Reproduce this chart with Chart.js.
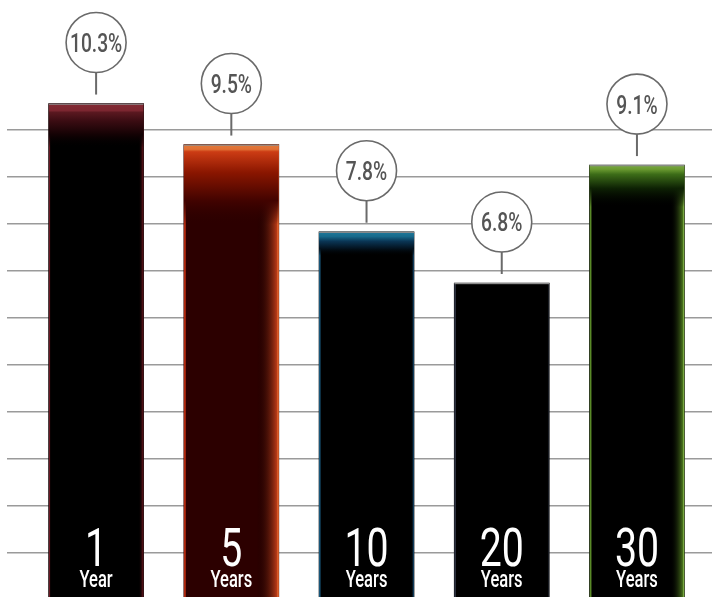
<!DOCTYPE html>
<html>
<head>
<meta charset="utf-8">
<script src="https://cdn.jsdelivr.net/npm/chart.js@4/dist/chart.umd.min.js"></script>
<style>
  html, body { margin: 0; padding: 0; background: #ffffff; }
  canvas { display: block; }
</style>
</head>
<body>
<canvas id="c" width="713" height="597"></canvas>
<script>
// ---- data ----
const categories = ['1', '5', '10', '20', '30'];
const units = ['Year', 'Years', 'Years', 'Years', 'Years'];
const returns = [10.3, 9.5, 7.8, 6.8, 9.1];
const gridTicks = [1, 2, 3, 4, 5, 6, 7, 8, 9, 10];

// ---- styles ----
const barStyles = [
  { base: '#000000', topLen: 44, top: [[0, '#822a34'], [0.16, '#7c2630'], [0.2, '#5a1820'], [0.4, '#3a0c12'], [0.7, '#140204'], [1, 'rgba(0,0,0,0)']],
    glow: 'rgba(130,24,34,0.95)', glowW: 5, left: '#6a1a24', leftW: 1.5 },
  { base: '#2c0000', topLen: 80, top: [[0, '#e37a3c'], [0.06, '#e07034'], [0.09, '#cc3c14'], [0.35, '#8a1600'], [0.7, '#420300'], [1, 'rgba(44,0,0,0)']],
    glow: '#d8461c', glowW: 22, left: '#b02a10', leftW: 2, edge: '#e06a30' },
  { base: '#000000', topLen: 24, top: [[0, '#1e7a9c'], [0.2, '#17698a'], [0.4, '#0a3554'], [0.7, '#03121e'], [1, 'rgba(0,0,0,0)']],
    glow: 'rgba(30,100,150,0.9)', glowW: 3, left: '#1a5a80', leftW: 1.5 },
  { base: '#000000', topLen: 0, top: [],
    glow: 'rgba(70,80,100,0.9)', glowW: 2, left: '#3a4052', leftW: 1.5 },
  { base: '#000000', topLen: 42, top: [[0, '#7aaa42'], [0.1, '#6a9a30'], [0.22, '#3c6c18'], [0.55, '#0e2204'], [1, 'rgba(0,0,0,0)']],
    glow: '#5e9224', glowW: 14, left: '#5a8a28', leftW: 2, edge: '#78a840' }
];

function condensedText(ctx, text, x, y, size, scaleX, color, weight) {
  ctx.save();
  ctx.font = (weight || '400') + ' ' + size + 'px Roboto, "Liberation Sans", sans-serif';
  ctx.fillStyle = color;
  ctx.textAlign = 'center';
  ctx.translate(x, y);
  ctx.scale(scaleX, 1);
  ctx.fillText(text, 0, 0);
  ctx.restore();
}

const decorPlugin = {
  id: 'decor',
  afterDatasetsDraw(chart) {
    const ctx = chart.ctx;
    const meta = chart.getDatasetMeta(0);
    const area = chart.chartArea;
    meta.data.forEach((el, i) => {
      const st = barStyles[i];
      const w = el.width;
      const left = el.x - w / 2, right = el.x + w / 2;
      const top = el.y, bottom = Math.min(el.base, area.bottom);
      ctx.save();
      ctx.beginPath();
      ctx.rect(left, top, w, bottom - top);
      ctx.clip();
      const hg = ctx.createLinearGradient(right - st.glowW, 0, right, 0);
      hg.addColorStop(0, 'rgba(0,0,0,0)');
      hg.addColorStop(1, st.glow);
      ctx.fillStyle = hg;
      ctx.fillRect(right - st.glowW, top, st.glowW, bottom - top);
      if (st.edge) { ctx.fillStyle = st.edge; ctx.fillRect(right - 1.5, top, 1.5, bottom - top); }
      ctx.fillStyle = st.left;
      ctx.fillRect(left, top, st.leftW, bottom - top);
      if (st.topLen > 0) {
        const vg = ctx.createLinearGradient(0, top, 0, top + st.topLen);
        st.top.forEach(s => vg.addColorStop(s[0], s[1]));
        ctx.fillStyle = vg;
        ctx.fillRect(left, top, w, st.topLen);
      }
      ctx.fillStyle = '#8c8c8c';
      ctx.fillRect(left, top, w, 1.2);
      ctx.restore();

      // balloon
      const cy = top - 61, r = 30;
      ctx.save();
      ctx.strokeStyle = '#6a6a6a';
      ctx.lineWidth = 2;
      ctx.beginPath();
      ctx.moveTo(el.x, cy + r);
      ctx.lineTo(el.x, top - 9);
      ctx.stroke();
      ctx.beginPath();
      ctx.arc(el.x, cy, r, 0, Math.PI * 2);
      ctx.fillStyle = '#ffffff';
      ctx.fill();
      ctx.lineWidth = 1.6;
      ctx.stroke();
      ctx.restore();
      condensedText(ctx, returns[i].toFixed(1) + '%', el.x, cy + 9.5, 26, 0.74, '#555555', '500');

      // bottom labels
      condensedText(ctx, categories[i], el.x, area.bottom - 31, 53, 0.74, '#ffffff', '400');
      condensedText(ctx, units[i], el.x, area.bottom - 10.5, 23, 0.72, '#ffffff', '500');
    });
  }
};

new Chart(document.getElementById('c'), {
  type: 'bar',
  data: {
    datasets: [{
      data: returns.map((v, i) => ({ x: i, y: v })),
      backgroundColor: barStyles.map(s => s.base),
      borderWidth: 0,
      barThickness: 95
    }]
  },
  options: {
    responsive: false,
    devicePixelRatio: 1,
    animation: false,
    layout: { padding: { left: 7, right: 1, top: 0, bottom: 0 } },
    plugins: { legend: { display: false }, tooltip: { enabled: false } },
    scales: {
      x: { type: 'linear', min: -0.659, max: 4.555, offset: false, display: false, grid: { offset: false } },
      y: { min: 0.675, max: 12.32, display: false },
      yGrid: {
        position: 'left',
        min: 0.057, max: 12.768,
        ticks: { display: false, stepSize: 1 },
        afterBuildTicks: (scale) => { scale.ticks = gridTicks.map(v => ({ value: v })); },
        grid: { color: '#9a9a9a', lineWidth: 1.6, drawTicks: false },
        border: { display: false }
      }
    }
  },
  plugins: [decorPlugin]
});
</script>
</body>
</html>
